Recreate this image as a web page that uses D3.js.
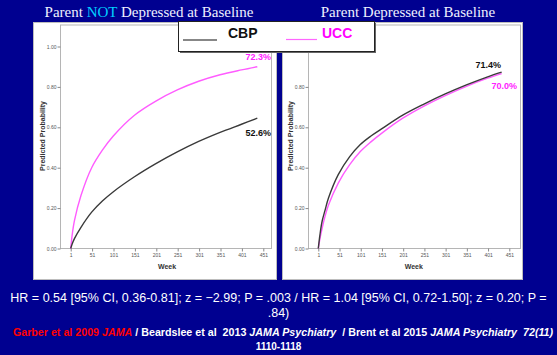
<!DOCTYPE html>
<html>
<head>
<meta charset="utf-8">
<script src="https://cdn.jsdelivr.net/npm/d3@7"></script>
<style>
  html, body { margin: 0; padding: 0; background: #000090; }
  svg { display: block; }
</style>
</head>
<body>
<div id="chart"></div>
<script>
const weeksLeft = [1, 4, 10, 25, 50, 75, 100, 150, 200, 250, 300, 350, 400, 437];
const cbpLeft = [0, 0.02, 0.05, 0.105, 0.18, 0.235, 0.28, 0.355, 0.42, 0.478, 0.53, 0.575, 0.615, 0.645];
const uccLeft = [0, 0.06, 0.14, 0.262, 0.40, 0.487, 0.556, 0.66, 0.73, 0.785, 0.828, 0.86, 0.884, 0.90];

const weeksRight = [1, 5, 10, 17, 25, 48, 75, 100, 125, 150, 200, 250, 300, 350, 400, 433];
const cbpRight = [0, 0.07, 0.135, 0.19, 0.25, 0.366, 0.455, 0.515, 0.557, 0.592, 0.66, 0.715, 0.765, 0.81, 0.85, 0.873];
const uccRight = [0, 0.05, 0.10, 0.16, 0.215, 0.324, 0.415, 0.48, 0.528, 0.57, 0.645, 0.705, 0.757, 0.803, 0.843, 0.866];

const weekTicks = [1, 51, 101, 151, 201, 251, 301, 351, 401, 451];
const probTicks = [0, 0.2, 0.4, 0.6, 0.8, 1.0];

const width = 557, height = 355;
const black = '#3a3a3a', pink = '#ff5cff';
const sans = 'Arial, Liberation Sans, sans-serif';

const svg = d3.select('#chart').append('svg')
  .attr('width', width).attr('height', height);

svg.append('rect').attr('width', width).attr('height', height).attr('fill', '#000090');

function drawPanel(p) {
  // white card
  svg.append('rect')
    .attr('x', p.box[0]).attr('y', p.box[1])
    .attr('width', p.box[2]).attr('height', p.box[3])
    .attr('fill', '#fff').attr('stroke', '#bdbdbd');

  const x = d3.scaleLinear().domain([1, 451]).range([p.x0, p.x1]);
  const y = d3.scaleLinear().domain([0, 1]).range([248.5, 46.5]);

  const g = svg.append('g');
  // plot frame
  g.append('rect')
    .attr('x', p.fl).attr('y', 25)
    .attr('width', p.fr - p.fl).attr('height', 248.5 - 25)
    .attr('fill', 'none').attr('stroke', '#b5b5b5').attr('stroke-width', 1);

  const yAxis = d3.axisLeft(y).tickValues(probTicks).tickFormat(d3.format('.2f'))
    .tickSize(3).tickPadding(1);
  const ya = g.append('g').attr('transform', `translate(${p.fl},0)`).call(yAxis);
  const xAxis = d3.axisBottom(x).tickValues(weekTicks).tickSize(3).tickPadding(2);
  const xa = g.append('g').attr('transform', 'translate(0,248.5)').call(xAxis);
  [ya, xa].forEach(a => {
    a.select('.domain').remove();
    a.selectAll('line').attr('stroke', '#888');
    a.selectAll('text').attr('fill', '#555').style('font-family', sans)
      .style('font-size', '5px');
  });

  g.append('text')
    .attr('transform', `translate(${p.ylabX},136) rotate(-90)`)
    .attr('text-anchor', 'middle')
    .style('font-family', sans)
    .style('font-size', '7px').style('font-weight', 'bold').attr('fill', '#333')
    .text('Predicted Probability');
  g.append('text')
    .attr('x', (p.x0 + p.x1) / 2).attr('y', 269)
    .attr('text-anchor', 'middle')
    .style('font-family', sans)
    .style('font-size', '7px').style('font-weight', 'bold').attr('fill', '#333')
    .text('Week');

  const line = d3.line().curve(d3.curveCatmullRom.alpha(0.5))
    .x(d => x(d[0])).y(d => y(d[1]));
  p.series.forEach(s => {
    g.append('path')
      .datum(p.weeks.map((w, i) => [w, s.values[i]]))
      .attr('d', line)
      .attr('fill', 'none').attr('stroke', s.color).attr('stroke-width', 1.4);
  });

  p.labels.forEach(l => {
    g.append('text')
      .attr('x', l.x).attr('y', l.y).attr('text-anchor', 'end')
      .style('font-family', sans)
      .style('font-size', '9px').style('font-weight', 'bold')
      .attr('fill', l.color).text(l.text);
  });
}

drawPanel({
  box: [33.5, 22.5, 243, 257], fl: 60.5, fr: 271.5, x0: 70.7, x1: 263.3, ylabX: 45,
  weeks: weeksLeft,
  series: [{ values: uccLeft, color: pink }, { values: cbpLeft, color: black }],
  labels: [{ text: '72.3%', x: 271, y: 60, color: '#ff22ff' },
           { text: '52.6%', x: 271, y: 136, color: '#111' }]
});

drawPanel({
  box: [282.5, 22.5, 240, 257], fl: 308.5, fr: 520.5, x0: 318.3, x1: 509.3, ylabX: 293,
  weeks: weeksRight,
  series: [{ values: uccRight, color: pink }, { values: cbpRight, color: black }],
  labels: [{ text: '71.4%', x: 501, y: 68, color: '#111' },
           { text: '70.0%', x: 517, y: 89, color: '#ff22ff' }]
});

// panel titles
const serif = 'Times New Roman, Liberation Serif, serif';
const t1 = svg.append('text').attr('x', 149).attr('y', 17).attr('text-anchor', 'middle')
  .style('font-family', serif).style('font-size', '15px').attr('fill', '#eef0ff');
t1.append('tspan').text('Parent ');
t1.append('tspan').attr('fill', '#00d0ff').text('NOT');
t1.append('tspan').text(' Depressed at Baseline');
svg.append('text').attr('x', 408).attr('y', 17).attr('text-anchor', 'middle')
  .style('font-family', serif).style('font-size', '15px').attr('fill', '#eef0ff')
  .text('Parent Depressed at Baseline');

// legend box
svg.append('rect').attr('x', 180).attr('y', 23).attr('width', 196).attr('height', 30).attr('fill', '#666');
svg.append('rect').attr('x', 178.5).attr('y', 21.5).attr('width', 196).attr('height', 30)
  .attr('fill', '#fff').attr('stroke', '#222');
svg.append('line').attr('x1', 183).attr('x2', 217).attr('y1', 40).attr('y2', 40)
  .attr('stroke', '#111').attr('stroke-width', 1.2);
svg.append('text').attr('x', 228).attr('y', 37.5)
  .style('font-family', sans).style('font-size', '14px')
  .style('font-weight', 'bold').attr('fill', '#111').text('CBP');
svg.append('line').attr('x1', 286).attr('x2', 317).attr('y1', 39.5).attr('y2', 39.5)
  .attr('stroke', '#ff66ff').attr('stroke-width', 1.2);
svg.append('text').attr('x', 322).attr('y', 37.5)
  .style('font-family', sans).style('font-size', '14px')
  .style('font-weight', 'bold').attr('fill', '#ff00ff').text('UCC');

// statistics lines
svg.append('text').attr('x', 278.5).attr('y', 302).attr('text-anchor', 'middle')
  .style('font-family', sans).style('font-size', '12.5px').attr('fill', '#fff')
  .text('HR = 0.54 [95% CI, 0.36-0.81]; z = \u22122.99; P = .003 / HR = 1.04 [95% CI, 0.72-1.50]; z = 0.20; P =');
svg.append('text').attr('x', 278.5).attr('y', 316.5).attr('text-anchor', 'middle')
  .style('font-family', sans).style('font-size', '12.5px').attr('fill', '#fff')
  .text('.84)');

const refs = svg.append('text').attr('x', 283).attr('y', 336).attr('text-anchor', 'middle')
  .style('white-space', 'pre')
  .style('font-family', sans).style('font-size', '10.7px').style('font-weight', 'bold').attr('fill', '#fff');
refs.append('tspan').attr('fill', '#ff0000').text('Garber et al 2009 ');
refs.append('tspan').attr('fill', '#ff0000').style('font-style', 'italic').text('JAMA');
refs.append('tspan').text(' / Beardslee et al  2013 ');
refs.append('tspan').style('font-style', 'italic').text('JAMA Psychiatry ');
refs.append('tspan').text(' / Brent et al 2015 ');
refs.append('tspan').style('font-style', 'italic').text('JAMA Psychiatry  72(11)');
svg.append('text').attr('x', 278.5).attr('y', 349.5).attr('text-anchor', 'middle')
  .style('font-family', sans).style('font-size', '10px').style('font-weight', 'bold').attr('fill', '#fff')
  .text('1110-1118');
</script>
</body>
</html>
